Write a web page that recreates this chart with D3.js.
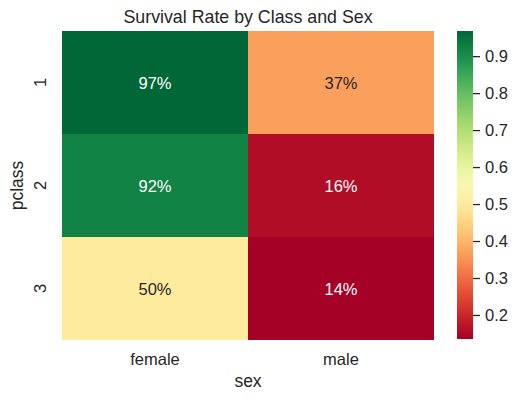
<!DOCTYPE html>
<html>
<head>
<meta charset="utf-8">
<script src="https://cdn.jsdelivr.net/npm/d3@7"></script>
<style>
  body { margin: 0; background: #fff; }
  text { font-family: "Liberation Sans", Arial, sans-serif; fill: #262626; }
</style>
</head>
<body>
<svg id="chart" width="518" height="401"></svg>
<script>
// data: survival rate by class (rows) and sex (columns)
const sexes = ["female", "male"]
const pclasses = ["1", "2", "3"]
const femaleRates = [0.968, 0.921, 0.500]
const maleRates = [0.369, 0.157, 0.135]
const colorbarTicks = [0.2, 0.3, 0.4, 0.5, 0.6, 0.7, 0.8, 0.9]

const svg = d3.select("#chart")
const plot = {left: 62, right: 434, top: 31, bottom: 340}
const bar = {left: 457, right: 473}

const cells = []
pclasses.forEach((p, i) => {
    cells.push({sex: "female", pclass: p, value: femaleRates[i]})
    cells.push({sex: "male", pclass: p, value: maleRates[i]})
})
const allValues = femaleRates.concat(maleRates)
const vmin = d3.min(allValues), vmax = d3.max(allValues)

const x = d3.scaleBand().domain(sexes).range([plot.left, plot.right])
const y = d3.scaleBand().domain(pclasses).range([plot.top, plot.bottom])
const norm = d3.scaleLinear().domain([vmin, vmax]).range([0, 1])
const color = v => d3.interpolateRdYlGn(norm(v))

// heatmap cells
svg.append("g").selectAll("rect")
    .data(cells)
    .join("rect")
    .attr("x", d => x(d.sex))
    .attr("y", d => y(d.pclass))
    .attr("width", x.bandwidth())
    .attr("height", y.bandwidth())
    .attr("fill", d => color(d.value))

// annotations, light text on dark cells
svg.append("g").selectAll("text")
    .data(cells)
    .join("text")
    .attr("x", d => x(d.sex) + x.bandwidth() / 2)
    .attr("y", d => y(d.pclass) + y.bandwidth() / 2)
    .attr("text-anchor", "middle")
    .attr("dominant-baseline", "central")
    .style("font-size", "16.5px")
    .style("fill", d => {
        const c = d3.rgb(color(d.value))
        const lum = 0.2126 * c.r + 0.7152 * c.g + 0.0722 * c.b
        return lum > 140 ? "#262626" : "#ffffff"
    })
    .text(d => Math.round(d.value * 100) + "%")

// x tick labels
svg.append("g").selectAll("text")
    .data(sexes)
    .join("text")
    .attr("x", d => x(d) + x.bandwidth() / 2)
    .attr("y", 365)
    .attr("text-anchor", "middle")
    .style("font-size", "16.5px")
    .text(d => d)

// y tick labels, rotated
svg.append("g").selectAll("text")
    .data(pclasses)
    .join("text")
    .attr("transform", d => `translate(46,${y(d) + y.bandwidth() / 2}) rotate(-90)`)
    .attr("text-anchor", "middle")
    .style("font-size", "16.5px")
    .text(d => d)

// axis labels + title
svg.append("text")
    .attr("x", (plot.left + plot.right) / 2).attr("y", 387)
    .attr("text-anchor", "middle")
    .style("font-size", "17.5px")
    .text("sex")
svg.append("text")
    .attr("transform", `translate(23,${(plot.top + plot.bottom) / 2}) rotate(-90)`)
    .attr("text-anchor", "middle")
    .style("font-size", "17.5px")
    .text("pclass")
svg.append("text")
    .attr("x", (plot.left + plot.right) / 2).attr("y", 23)
    .attr("text-anchor", "middle")
    .style("font-size", "17.8px")
    .text("Survival Rate by Class and Sex")

// colorbar
const cy = d3.scaleLinear().domain([vmin, vmax]).range([plot.bottom - 1, plot.top])
const grad = svg.append("defs").append("linearGradient")
    .attr("id", "cbar").attr("x1", 0).attr("y1", 1).attr("x2", 0).attr("y2", 0)
d3.range(0, 1.0001, 0.05).forEach(t => {
    grad.append("stop").attr("offset", t).attr("stop-color", d3.interpolateRdYlGn(t))
})
svg.append("rect")
    .attr("x", bar.left).attr("y", plot.top)
    .attr("width", bar.right - bar.left).attr("height", plot.bottom - 1 - plot.top)
    .attr("fill", "url(#cbar)")

const cAxis = svg.append("g")
    .attr("transform", `translate(${bar.right},0)`)
    .call(d3.axisRight(cy).tickValues(colorbarTicks).tickSize(7).tickPadding(5).tickFormat(d3.format(".1f")))
cAxis.select(".domain").remove()
cAxis.selectAll("line").attr("stroke", "#262626").attr("stroke-width", 1.3)
cAxis.selectAll("text").style("font-size", "16.5px").style("font-family", "Liberation Sans, Arial, sans-serif").attr("fill", "#262626")
</script>
</body>
</html>
